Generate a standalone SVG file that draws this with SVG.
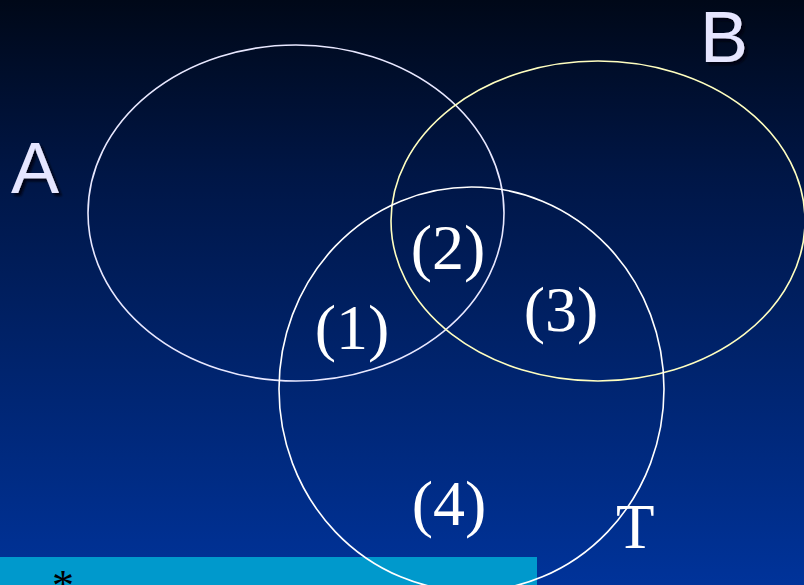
<svg xmlns="http://www.w3.org/2000/svg" width="804" height="585" viewBox="0 0 804 585">
<defs>
<linearGradient id="bg" x1="0" y1="0" x2="0" y2="1">
<stop offset="0" stop-color="#000818"/>
<stop offset="0.3" stop-color="#001646"/>
<stop offset="1" stop-color="#00339a"/>
</linearGradient>
<filter id="sh" x="-20%" y="-20%" width="150%" height="150%">
<feDropShadow dx="3" dy="3" stdDeviation="0.8" flood-color="#000010" flood-opacity="0.85"/>
</filter>
</defs>
<style>
.ell{fill:none;stroke-width:1.6}
.sans{font-family:"Liberation Sans",Arial,sans-serif;font-size:72px;fill:#e6e6ff;filter:url(#sh)}
.serif{font-family:"Liberation Serif","Times New Roman",serif;fill:#ffffff}
.num{font-size:64px}
</style>
<rect x="0" y="0" width="804" height="585" fill="url(#bg)"/>
<rect x="0" y="557" width="537" height="28" fill="#0099cc"/>
<text x="52" y="600" class="serif" style="fill:#000;font-size:44px">*</text>
<g id="A">
<ellipse cx="296" cy="213" rx="208" ry="168" class="ell" stroke="#e8e8ff"/>
<text x="11" y="193" class="sans">A</text>
</g>
<g id="B">
<ellipse cx="598" cy="221" rx="207" ry="160" class="ell" stroke="#ffffc0"/>
<text x="700" y="62" class="sans">B</text>
</g>
<g id="T">
<ellipse cx="471.5" cy="389" rx="192.5" ry="202" class="ell" stroke="#ffffff"/>
<text x="616" y="548" class="serif" style="font-size:63px">T</text>
</g>
<g id="regions">
<text x="352" y="349" class="serif num" text-anchor="middle">(1)</text>
<text x="448" y="269" class="serif num" text-anchor="middle">(2)</text>
<text x="561" y="331" class="serif num" text-anchor="middle">(3)</text>
<text x="449" y="525" class="serif num" text-anchor="middle">(4)</text>
</g>
<g id="connectors"/>
</svg>
